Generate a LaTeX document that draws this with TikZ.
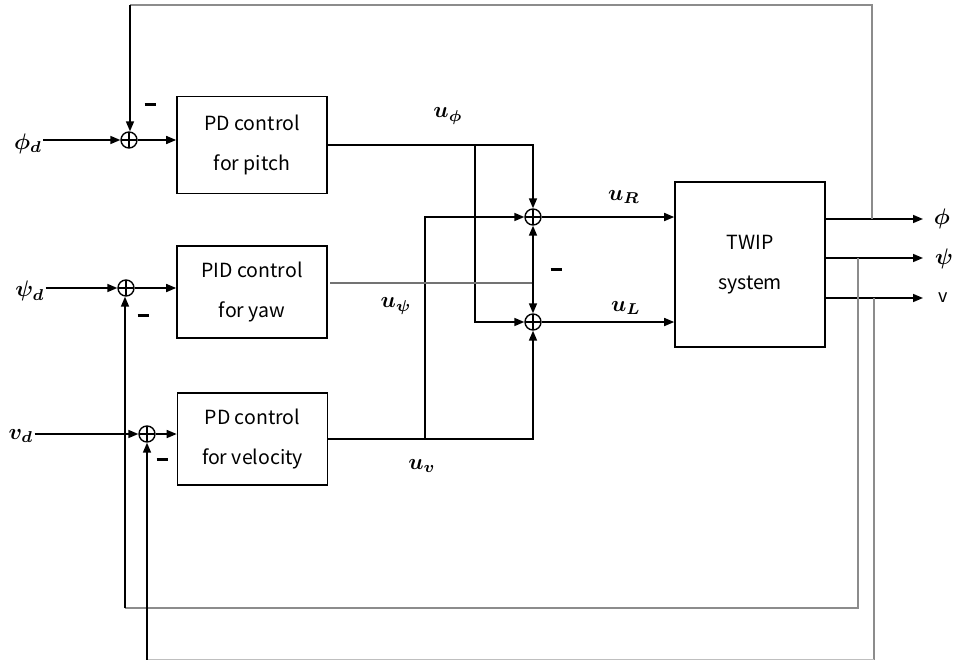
\documentclass[tikz,border=0pt]{standalone}
\usepackage{fontspec}
\usepackage{graphicx}
\usepackage{bm}
\newfontfamily\boxfont{Noto Sans CJK SC}
\newcommand\mlab[1]{\scalebox{2.25}{$\bm{#1}$}}
\usetikzlibrary{arrows.meta,calc}
\begin{document}
\begin{tikzpicture}[x=1pt,y=-1pt,
  ln/.style={line width=1.6pt},
  fb/.style={line width=1.3pt,draw=black!45},
  arr/.style={ln,-{Triangle[length=10pt,width=8pt]}},
  blk/.style={draw,line width=1.6pt,minimum width=150pt,minimum height=97pt,align=center,inner sep=0pt,font=\boxfont\fontsize{19.5}{40}\selectfont},
  sumn/.style={circle,draw,line width=1.4pt,minimum size=16pt,inner sep=0pt,
    path picture={\draw[line width=1.2pt] (path picture bounding box.north) -- (path picture bounding box.south) (path picture bounding box.west) -- (path picture bounding box.east);}},
  lab/.style={inner sep=1pt},
  minus/.style={inner sep=0pt}
]
\useasboundingbox (0,0) rectangle (954,661);

% blocks
\node[blk] (b1) at (252,145) {PD control\\for pitch};
\node[blk,minimum height=92pt] (b2) at (252,292) {PID control\\for yaw};
\node[blk,minimum height=92pt] (b3) at (252.5,439) {PD control\\for velocity};
\node[blk,minimum height=165pt] (tw) at (750,264.5) {TWIP\\system};

% summing junctions
\node[sumn] (s1) at (129,140) {};
\node[sumn] (s2) at (126,288) {};
\node[sumn] (s3) at (147,434) {};
\node[sumn] (sR) at (533,217) {};
\node[sumn] (sL) at (533,322) {};

% inputs
\node[lab] (phid) at (28,144) {\mlab{\phi_d}};
\node[lab] (psid) at (30,291) {\mlab{\psi_d}};
\node[lab] (vd) at (21,436) {\mlab{v_d}};
\draw[arr] (phid.east |- s1) -- (s1.west);
\draw[arr] (psid.east |- s2) -- (s2.west);
\draw[arr] (vd.east |- s3) -- (s3.west);
\draw[arr] (s1.east) -- (s1 -| b1.west);
\draw[arr] (s2.east) -- (s2 -| b2.west);
\draw[arr] (s3.east) -- (s3 -| b3.west);

% controller outputs
\coordinate (br1) at (475,145);
\coordinate (br2) at (425,439);
\coordinate (yw) at (330,283);
\coordinate (jn) at (533,283);
\draw[arr] (b1.east) -| (sR.north);
\draw[arr] (br1) |- (sL.west);
\draw[arr] (b3.east) -| (sL.south);
\draw[arr] (br2) |- (sR.west);
\draw[line width=1.1pt,draw=black!55] (yw) -- (jn);
\draw[arr] (jn) -- (sR.south);
\draw[arr] (jn) -- (sL.north);
\draw[arr] (sR.east) -- (sR -| tw.west);
\draw[arr] (sL.east) -- (sL -| tw.west);

% labels
\node[lab] (uphi) at (448,116) {\mlab{u_\phi}};
\node[lab] (uR) at (624,197) {\mlab{u_R}};
\node[lab] (uL) at (626,308) {\mlab{u_L}};
\node[lab] (upsi) at (396,306) {\mlab{u_\psi}};
\node[lab] (uv) at (422,466) {\mlab{u_v}};

% minus signs
\node[minus] (m1) at (150,104) {\rule{11pt}{3pt}};
\node[minus] (m2) at (143,315) {\rule{11pt}{3pt}};
\node[minus] (m3) at (162,459) {\rule{11pt}{3pt}};
\node[minus] (m4) at (556,269) {\rule{11pt}{3pt}};

% plant outputs
\coordinate (o1) at (825,219);
\coordinate (o2) at (825,258);
\coordinate (o3) at (825,298);
\coordinate (e1) at (923,219);
\coordinate (e2) at (923,258);
\coordinate (e3) at (923,298);
\draw[arr] (o1) -- (e1);
\draw[arr] (o2) -- (e2);
\draw[arr] (o3) -- (e3);
\node[lab] (yphi) at (942,219) {\mlab{\phi}};
\node[lab] (ypsi) at (944,259) {\mlab{\psi}};
\node[font=\boxfont\fontsize{18}{22}\selectfont] (yv) at (943,298) {v};

% feedback
\coordinate (f1) at (872,219);
\coordinate (f1t) at (872,5);
\coordinate (f1l) at (130,5);
\draw[fb] (f1) -- (f1t) -- (f1l);
\draw[arr] (f1l) -- (f1l |- s1.north);

\coordinate (f2) at (858,258);
\coordinate (f2b) at (858,608);
\coordinate (f2l) at (125,608);
\draw[fb] (f2) -- (f2b) -- (f2l);
\draw[arr] (f2l) -- (f2l |- s2.south);

\coordinate (f3) at (874,298);
\coordinate (f3b) at (874,659.5);
\coordinate (f3l) at (147,659.5);
\draw[fb] (f3) -- (f3b);
\draw[line width=1.3pt,draw=black!25] (f3b) -- (f3l);
\draw[arr] (f3l) -- (s3.south);
\end{tikzpicture}
\end{document}
